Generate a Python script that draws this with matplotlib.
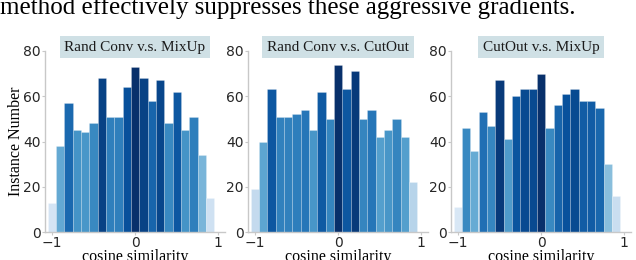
import numpy as np
import matplotlib
matplotlib.use("Agg")
import matplotlib.pyplot as plt

# ---- data ----
bin_starts = np.round(np.arange(-1.0, 0.95, 0.1), 2)
titles = ["Rand Conv v.s. MixUp", "Rand Conv v.s. CutOut", "CutOut v.s. MixUp"]
counts_randconv_mixup = [13, 38, 57, 45, 44, 48, 68, 51, 51, 64, 73, 68, 58, 67, 48, 62, 45, 51, 34, 15]
counts_randconv_cutout = [19, 40, 63, 51, 51, 52, 54, 45, 62, 50, 74, 63, 71, 50, 54, 42, 45, 50, 42, 22]
counts_cutout_mixup = [11, 46, 36, 53, 47, 67, 41, 60, 63, 63, 70, 46, 56, 61, 63, 58, 58, 55, 30, 16]
all_counts = [counts_randconv_mixup, counts_randconv_cutout, counts_cutout_mixup]
yticks = [0, 20, 40, 60, 80]
xticks = [-1, 0, 1]
top_sentence = "method effectively suppresses these aggressive gradients."

W, H = 636, 260
fig = plt.figure(figsize=(W / 100, H / 100), dpi=100)

serif = ["Liberation Serif", "DejaVu Serif"]
cmap = plt.get_cmap("Blues")

fig.text(0.0, 1 - 14 / H, top_sentence, family=serif, fontsize=18, ha="left",
         va="baseline", color="black")

lefts = [45, 248, 451]
width_px = 180
bottom_px = 232
top_px = 51
for i, (ax_left, counts, title) in enumerate(zip(lefts, all_counts, titles)):
    ax = fig.add_axes([ax_left / W, 1 - bottom_px / H, width_px / W, (bottom_px - top_px) / H])
    c = np.array(counts, dtype=float)
    colors = [cmap(v / c.max()) for v in c]
    ax.bar(bin_starts, c, width=0.1, color=colors, edgecolor=(1, 1, 1, 0.35), linewidth=0.4)
    ax.set_xlim(-1.08, 1.08)
    ax.set_ylim(0, 80)
    ax.set_yticks(yticks)
    ax.set_xticks(xticks)
    ax.set_xticklabels(["\u22121", "0", "1"])
    for side in ["top", "right"]:
        ax.spines[side].set_visible(False)
    for side in ["left", "bottom"]:
        ax.spines[side].set_color("#c8c8c8")
        ax.spines[side].set_linewidth(1.0)
    ax.tick_params(axis="both", labelsize=10, colors="#c8c8c8", labelcolor="#262626",
                   length=2.5, width=0.8, pad=0.5)
    ax.set_xlabel("cosine similarity", family=serif, fontsize=11.5, labelpad=-1)
    if i == 0:
        ax.set_ylabel("Instance Number", family=serif, fontsize=11.5, labelpad=-0.5)
    ax.text(0.5, 1.02, title, transform=ax.transAxes, ha="center", va="center",
            family=serif, fontsize=11, color="#1a1a1a",
            bbox=dict(boxstyle="square,pad=0.3", facecolor="#cfe0e5", edgecolor="none"))

fig.savefig("out.png", dpi=100)
